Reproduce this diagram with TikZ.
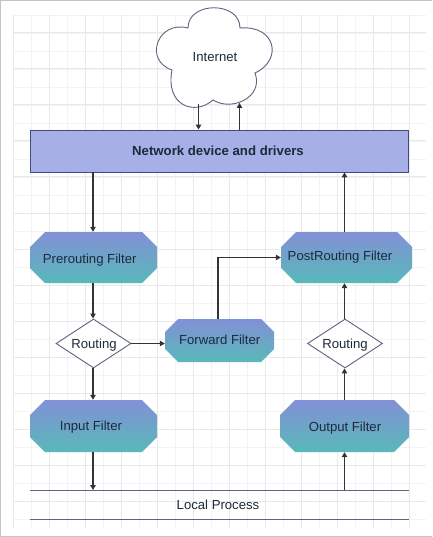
\documentclass[tikz,border=0pt]{standalone}
\usepackage{fontspec}
\setmainfont{Liberation Sans}
\usetikzlibrary{shapes.geometric,arrows.meta}
\definecolor{gminor}{HTML}{F3F3F3}
\definecolor{gmajor}{HTML}{E9E9E9}
\definecolor{frameg}{HTML}{C4C4C4}
\definecolor{netfill}{HTML}{A6AFE6}
\definecolor{netedge}{HTML}{444A80}
\definecolor{linec}{HTML}{333333}
\definecolor{shapeedge}{HTML}{60627F}
\definecolor{txt}{HTML}{1C2A3C}
\definecolor{topc}{HTML}{8290D6}
\definecolor{botc}{HTML}{58B9B9}
\newcommand{\filterbox}[8]{% name, x-left, y-top, width, height, chamfer, label position, text
  \shade[top color=topc,bottom color=botc]
    ({#2+#6},#3) -- ({#2+#4-#6},#3) -- ({#2+#4},{#3+#6}) -- ({#2+#4},{#3+#5-#6})
    -- ({#2+#4-#6},{#3+#5}) -- ({#2+#6},{#3+#5}) -- (#2,{#3+#5-#6}) -- (#2,{#3+#6}) -- cycle;
  \node[minimum width=#4pt,minimum height=#5pt,inner sep=0pt] (#1) at ({#2+#4/2},{#3+#5/2}) {};
  \node[labeltext,yshift=-1.2pt] (#1text) at (#7) {#8};
}
\tikzset{
  x=1pt,y=-1pt,
  labeltext/.style={font=\fontsize{13.15}{15}\selectfont,text=txt,text height=9.5pt,text depth=2.5pt},
  decision/.style={diamond,aspect=1.53,inner sep=0pt,minimum width=75pt,minimum height=49pt,
    draw=shapeedge,line width=.9pt,fill=white},
  conn/.style={draw=linec,line width=1.05pt,-{Triangle[width=5.5pt,length=5pt]}},
  rail/.style={draw=shapeedge,line width=1pt},
}
\begin{document}
\begin{tikzpicture}
\useasboundingbox (0,0) rectangle (432,537);
\fill[white] (0,0) rectangle (432,537);
% grid
\foreach \i in {0,...,22}{\draw[gminor,line width=.8pt] ({13+18*\i},15) -- ({13+18*\i},528);}
\foreach \i in {0,...,28}{\draw[gminor,line width=.8pt] (13,{15+18*\i}) -- (426,{15+18*\i});}
\foreach \i in {0,...,11}{\draw[gmajor,line width=1pt] ({13+36*\i},15) -- ({13+36*\i},528);}
\foreach \i in {0,...,13}{\draw[gmajor,line width=1pt] (13,{33+36*\i}) -- (426,{33+36*\i});}
% frame
\draw[frameg,line width=1pt] (432,.5) -- (.5,.5) -- (.5,536.3) -- (432,536.3);
% cloud
\draw[shapeedge,line width=.9pt,fill=white]
  (188,28) .. controls (188,1) and (240,1) .. (240,28)
  .. controls (276,25) and (283,60) .. (255,73)
  .. controls (264,97) and (232,112) .. (213,100)
  .. controls (195,116) and (165,106) .. (172,70)
  .. controls (143,60) and (158,20) .. (188,28) -- cycle;
\node[labeltext,yshift=-1.2pt] (cloud) at (215,57.3) {Internet};
\coordinate (cloudout) at (198.5,104);
\coordinate (cloudin) at (239.5,103);
% boxes
\node[draw=netedge,line width=.9pt,fill=netfill,minimum width=378.5pt,minimum height=42pt,inner sep=0pt] (net) at (219.2,151) {};
\node[labeltext,font=\fontsize{13.2}{15}\selectfont\bfseries,yshift=-1.2pt] (nettext) at (218,151) {Network device and drivers};
\filterbox{pre}{30}{232}{127}{51}{15}{89.7,258.5}{Prerouting Filter}
\filterbox{post}{281}{232}{131}{51}{15}{340,256}{PostRouting Filter}
\filterbox{fwd}{165}{319}{109}{43}{13}{219.7,340}{Forward Filter}
\filterbox{inp}{30}{400}{127}{52}{15}{91,425.3}{Input Filter}
\filterbox{outp}{280}{400}{129}{52}{15}{345,426.5}{Output Filter}
\node[decision] (rl) at (93.5,343.5) {};
\node[decision] (rr) at (345,343.5) {};
\node[labeltext,yshift=-1.2pt] (rltext) at (94,343.8) {Routing};
\node[labeltext,yshift=-1.2pt] (rrtext) at (345,343.8) {Routing};
% local process
\coordinate (lpa) at (30,490);
\coordinate (lpb) at (408.5,490);
\coordinate (lpc) at (30,519.5);
\coordinate (lpd) at (408.5,519.5);
\draw[rail] (lpa) -- (lpb);
\draw[rail] (lpc) -- (lpd);
\node[labeltext,yshift=-1.2pt] (lp) at (218,505) {Local Process};
\coordinate (xl) at (93,0);
\coordinate (xr) at (344.5,0);
\coordinate (xf) at (218,0);
% connectors
\draw[conn] (cloudout) -- (net.north -| cloudout);
\draw[conn] (net.north -| cloudin) -- (cloudin);
\draw[conn] (net.south -| xl) -- (pre.north -| xl);
\draw[conn] (pre.south -| xl) -- (rl.north -| xl);
\draw[conn] (rl.south -| xl) -- (inp.north -| xl);
\draw[conn] (inp.south -| xl) -- (lpa -| xl);
\draw[conn] (rl.east) -- (fwd.west |- rl.east);
\draw[conn] (fwd.north -| xf) |- (post.west);
\draw[conn] (lpa -| xr) -- (outp.south -| xr);
\draw[conn] (outp.north -| xr) -- (rr.south -| xr);
\draw[conn] (rr.north -| xr) -- (post.south -| xr);
\draw[conn] (post.north -| xr) -- (net.south -| xr);
\end{tikzpicture}
\end{document}
